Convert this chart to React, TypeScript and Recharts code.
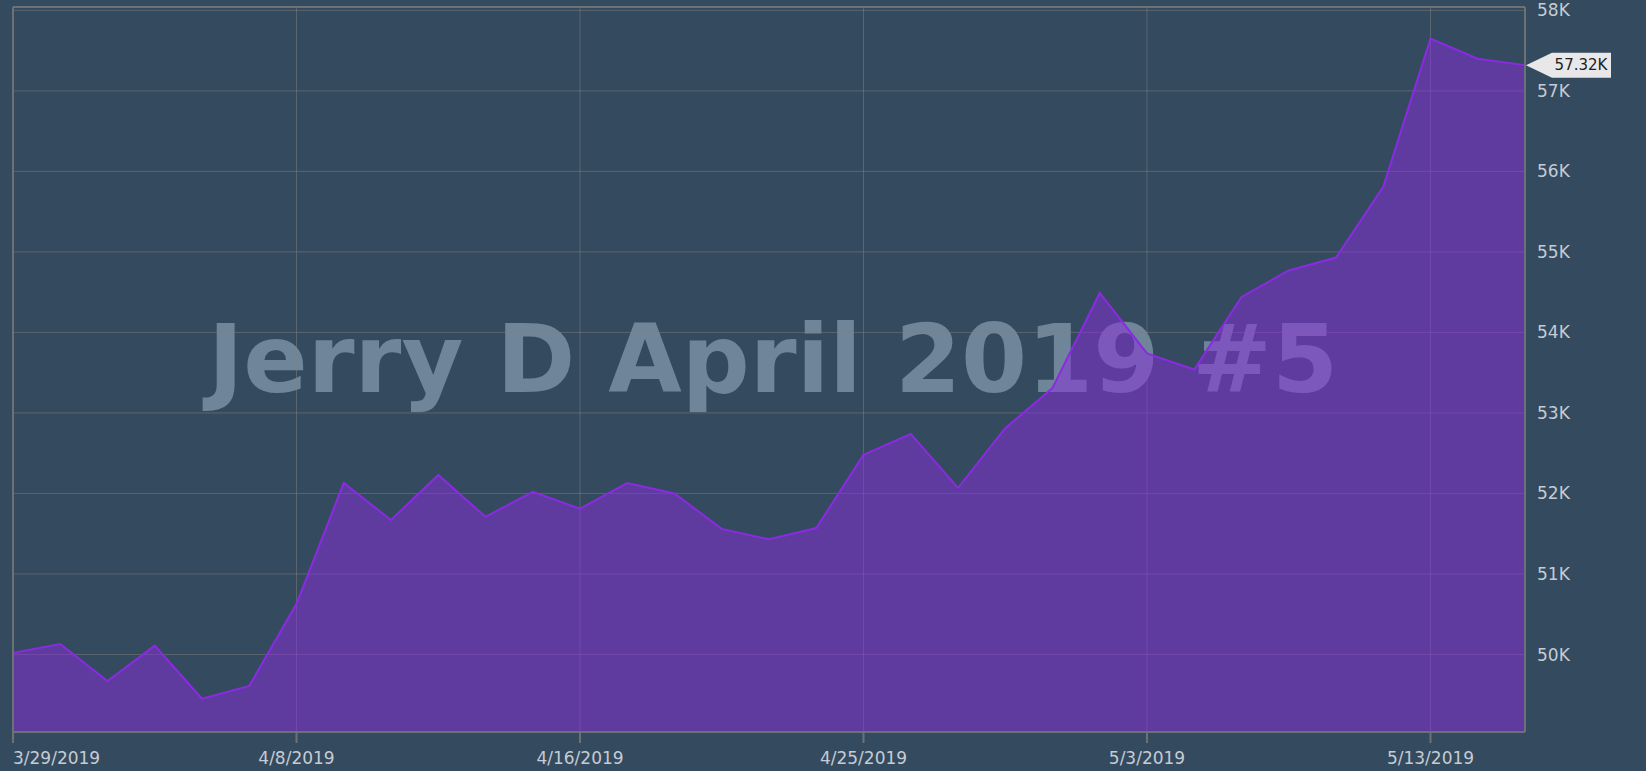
import React from 'react';
import { AreaChart, Area, XAxis, YAxis, CartesianGrid, ReferenceLine } from 'recharts';

// trading days shown on the chart
const dates = [
    '3/29/2019', '4/1/2019', '4/2/2019', '4/3/2019', '4/4/2019', '4/5/2019',
    '4/8/2019', '4/9/2019', '4/10/2019', '4/11/2019', '4/12/2019', '4/15/2019',
    '4/16/2019', '4/17/2019', '4/18/2019', '4/22/2019', '4/23/2019', '4/24/2019',
    '4/25/2019', '4/26/2019', '4/29/2019', '4/30/2019', '5/1/2019', '5/2/2019',
    '5/3/2019', '5/6/2019', '5/7/2019', '5/8/2019', '5/9/2019', '5/10/2019',
    '5/13/2019', '5/14/2019', '5/15/2019',
];

const balance = [
    50020, 50130, 49670, 50110, 49450, 49610,
    50630, 52130, 51670, 52230, 51710, 52020,
    51810, 52130, 52000, 51560, 51430, 51570,
    52480, 52740, 52070, 52810, 53310, 54490,
    53740, 53540, 54440, 54770, 54930, 55810,
    57650, 57400, 57320,
];

const xTicks = ['3/29/2019', '4/8/2019', '4/16/2019', '4/25/2019', '5/3/2019', '5/13/2019'];
const yTicks = [50000, 51000, 52000, 53000, 54000, 55000, 56000, 57000, 58000];
const yDomain = [49037, 58042];
const title = 'Jerry D April 2019 #5';

const data = dates.map((d, i) => ({ date: d, value: balance[i] }));
const lastValue = balance[balance.length - 1];

const BG = '#344a5f';
const BORDER = '#6c7176';
const TEXT = '#c5ccd3';

function DateTick(props: any) {
    const { x, y, payload } = props;
    const first = payload.value === dates[0];
    return (
        <text x={x} y={y + 19} textAnchor={first ? 'start' : 'middle'} fill={TEXT} fontSize={17} fontFamily="DejaVu Sans">
            {payload.value}
        </text>
    );
}

function LastValueTag(props: any) {
    const vb = props.viewBox || {};
    const x = vb.x + vb.width;
    const y = vb.y;
    const pts = [
        [x + 1, y], [x + 27, y - 12.5], [x + 86, y - 12.5], [x + 86, y + 12.5], [x + 27, y + 12.5],
    ].map(p => p.join(',')).join(' ');
    return (
        <g>
            <polygon points={pts} fill="#e8e8e8" />
            <text x={x + 56} y={y + 5} textAnchor="middle" fill="#1e1e1e" fontSize={15} fontFamily="DejaVu Sans">
                {(lastValue / 1000).toFixed(2)}K
            </text>
        </g>
    );
}

export default function App() {
    return (
        <div style={{ position: 'fixed', left: 0, top: 0, width: 1646, height: 771, background: BG, overflow: 'hidden' }}>
            <svg width={1646} height={771} style={{ position: 'absolute', left: 0, top: 0 }}>
                <text x={773} y={392} textAnchor="middle" fill="#6f8599" fontSize={95} fontWeight="bold" fontFamily="DejaVu Sans">
                    {title}
                </text>
            </svg>
            <div style={{ position: 'absolute', left: 0, top: 0 }}>
                <AreaChart width={1646} height={771} data={data} margin={{ top: 7, left: 13, right: 0, bottom: 0 }}>
                    <CartesianGrid stroke="#808080" strokeOpacity={0.5} />
                    <XAxis
                        dataKey="date"
                        ticks={xTicks}
                        interval={0}
                        height={39}
                        tickSize={11}
                        stroke={BORDER}
                        strokeWidth={2}
                        tick={<DateTick />}
                    />
                    <YAxis
                        orientation="right"
                        width={121}
                        domain={yDomain}
                        ticks={yTicks}
                        allowDataOverflow
                        tickLine={false}
                        tickSize={6}
                        tickMargin={6}
                        stroke={BORDER}
                        strokeWidth={2}
                        tick={{ fill: TEXT, fontSize: 17, fontFamily: 'DejaVu Sans' }}
                        tickFormatter={(v: number) => `${v / 1000}K`}
                    />
                    <ReferenceLine y={yDomain[1]} stroke={BORDER} strokeWidth={2} />
                    <ReferenceLine x={dates[0]} stroke={BORDER} strokeWidth={2} />
                    <Area
                        type="linear"
                        dataKey="value"
                        stroke="#8a2be2"
                        strokeWidth={2}
                        fill="#8a2be2"
                        fillOpacity={0.5}
                        dot={false}
                        activeDot={false}
                        isAnimationActive={false}
                    />
                    <ReferenceLine y={lastValue} stroke="none" label={<LastValueTag />} />
                </AreaChart>
            </div>
        </div>
    );
}
